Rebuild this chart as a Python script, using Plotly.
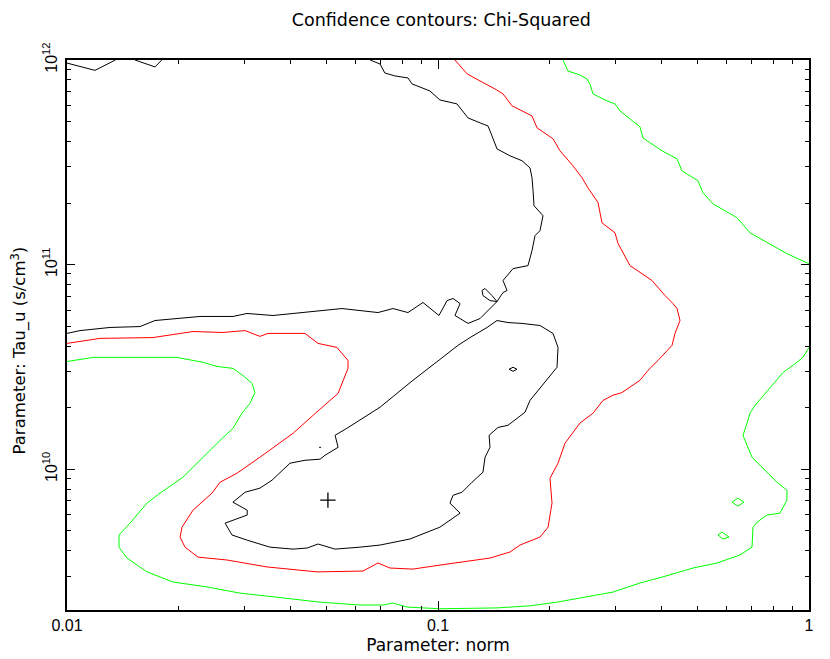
import plotly.graph_objects as go

# contour levels (norm vs Tau_u)
black_a_norm = [0.0100, 0.0119, 0.0135]
black_a_tau = [9.66e11, 8.9e11, 1.0e12]
black_b_norm = [0.01525, 0.01727, 0.0180]
black_b_tau = [1.0e12, 9.25e11, 1.0e12]

black_outer_norm = [0.0100, 0.01084, 0.01306, 0.01573, 0.01727, 0.02283, 0.02802, 0.03056, 0.03592, 0.04325,
                    0.0502, 0.0551, 0.0689, 0.0756, 0.0830, 0.0911, 0.1006, 0.1058, 0.1098, 0.1147,
                    0.1111, 0.1205, 0.1298, 0.1381, 0.1442, 0.1381, 0.1322, 0.1314, 0.1339, 0.1398,
                    0.1442, 0.1497, 0.1535, 0.1497, 0.1593, 0.1748, 0.1792, 0.1826, 0.1883, 0.1919,
                    0.1815, 0.1804, 0.1792, 0.1770, 0.1684, 0.1564, 0.1442, 0.1398, 0.1364, 0.1298,
                    0.1205, 0.1125, 0.1012, 0.0951, 0.0851, 0.0830, 0.0765, 0.0719, 0.0698, 0.0656]
black_outer_tau = [4.61e10, 4.76e10, 4.93e10, 4.98e10, 5.33e10, 5.58e10, 5.58e10, 5.77e10, 5.64e10, 5.83e10,
                   6.03e10, 6.10e10, 5.83e10, 6.10e10, 5.83e10, 6.53e10, 5.64e10, 6.67e10, 6.83e10, 6.45e10,
                   5.64e10, 5.16e10, 5.45e10, 6.10e10, 6.60e10, 6.67e10, 7.06e10, 7.47e10, 7.64e10, 7.06e10,
                   6.60e10, 7.30e10, 7.47e10, 8.36e10, 9.56e10, 9.89e10, 1.17e11, 1.385e11, 1.465e11, 1.734e11,
                   1.94e11, 2.30e11, 2.66e11, 2.97e11, 3.22e11, 3.40e11, 3.68e11, 4.26e11, 4.76e11, 4.93e11,
                   5.21e11, 6.10e11, 6.38e11, 7.06e11, 7.64e11, 8.17e11, 8.36e11, 8.64e11, 9.56e11, 1.0e12]

black_inner_norm = [0.1442, 0.1356, 0.1220, 0.1132, 0.1012, 0.0856, 0.0698, 0.0616, 0.0568, 0.0528,
                    0.0538, 0.0496, 0.0481, 0.0438, 0.0399, 0.0357, 0.0331, 0.0302, 0.0280, 0.0306,
                    0.0306, 0.02667, 0.02785, 0.0306, 0.03525, 0.0407, 0.0444, 0.0475, 0.0528, 0.0616,
                    0.0698, 0.0840, 0.1012, 0.1147, 0.1077, 0.1098, 0.1161, 0.1235, 0.1322, 0.1339,
                    0.1381, 0.1373, 0.1451, 0.1544, 0.1643, 0.1716, 0.1770, 0.1883, 0.2004, 0.2093,
                    0.2106, 0.2042, 0.1883, 0.1684, 0.1544, 0.1442]
black_inner_tau = [5.33e10, 4.93e10, 4.40e10, 4.03e10, 3.44e10, 2.72e10, 2.01e10, 1.73e10, 1.585e10, 1.465e10,
                   1.28e10, 1.17e10, 1.12e10, 1.106e10, 1.07e10, 8.84e9, 8.08e9, 7.72e9, 6.90e9, 6.31e9,
                   5.97e9, 5.45e9, 4.77e9, 4.50e9, 4.16e9, 4.07e9, 4.12e9, 4.31e9, 4.07e9, 4.16e9,
                   4.26e9, 4.56e9, 5.21e9, 6.10e9, 6.83e9, 7.46e9, 7.72e9, 8.64e9, 9.67e9, 1.144e10,
                   1.28e10, 1.465e10, 1.60e10, 1.64e10, 1.79e10, 1.90e10, 2.17e10, 2.48e10, 2.87e10, 3.15e10,
                   3.94e10, 4.61e10, 5.04e10, 5.16e10, 5.21e10, 5.33e10]

black_ring_norm = [0.1554, 0.1593, 0.1633, 0.1593, 0.1554]
black_ring_tau = [3.08e10, 3.15e10, 3.08e10, 3.01e10, 3.08e10]
black_dot_norm = [0.0478, 0.0484]
black_dot_tau = [1.28e10, 1.28e10]

red_norm = [0.0100, 0.01227, 0.01705, 0.02186, 0.02634, 0.0302, 0.0331, 0.03482, 0.0438, 0.0475,
            0.0534, 0.0572, 0.0572, 0.0538, 0.0460, 0.0407, 0.0331, 0.02872, 0.02585, 0.02459,
            0.02186, 0.02042, 0.02017, 0.0208, 0.02255, 0.0270, 0.0346, 0.0472, 0.0628, 0.0689,
            0.0742, 0.0856, 0.1012, 0.1381, 0.1564, 0.1663, 0.1883, 0.1980, 0.2029, 0.2004,
            0.2106, 0.2199, 0.2413, 0.2617, 0.2785, 0.2963, 0.3133, 0.3334, 0.3503, 0.3681,
            0.3917, 0.4273, 0.4354, 0.4491, 0.4408, 0.4300, 0.4092, 0.3775, 0.3293, 0.3056,
            0.3000, 0.2767, 0.2700, 0.2537, 0.2444, 0.2311, 0.2132, 0.2042, 0.1849, 0.1792,
            0.1583, 0.1497, 0.1424, 0.1298, 0.1198, 0.1111]
red_tau = [4.12e10, 4.36e10, 4.40e10, 4.71e10, 4.66e10, 4.76e10, 4.46e10, 4.61e10, 4.61e10, 4.12e10,
           3.94e10, 3.40e10, 3.11e10, 2.35e10, 1.83e10, 1.50e10, 1.144e10, 9.56e9, 8.64e9, 7.64e9,
           6.31e9, 5.21e9, 4.66e9, 4.16e9, 3.72e9, 3.60e9, 3.33e9, 3.15e9, 3.18e9, 3.48e9,
           3.29e9, 3.25e9, 3.40e9, 3.68e9, 3.94e9, 4.26e9, 4.66e9, 5.21e9, 6.83e9, 9.04e9,
           1.07e10, 1.34e10, 1.68e10, 1.88e10, 2.17e10, 2.30e10, 2.37e10, 2.57e10, 2.72e10, 3.04e10,
           3.40e10, 4.03e10, 4.61e10, 5.33e10, 6.10e10, 6.45e10, 7.06e10, 8.36e10, 9.89e10, 1.27e11,
           1.43e11, 1.60e11, 2.01e11, 2.37e11, 2.66e11, 3.04e11, 3.60e11, 4.12e11, 4.66e11, 5.33e11,
           5.97e11, 6.83e11, 7.22e11, 7.90e11, 8.55e11, 1.0e12]

green_main_norm = [0.0100, 0.01175, 0.01979, 0.02326, 0.02536, 0.02802, 0.02981, 0.03152, 0.03211, 0.03113,
                   0.02963, 0.02802, 0.02634, 0.02326, 0.02054, 0.01781, 0.01643, 0.01478, 0.01381, 0.01381,
                   0.01451, 0.01643, 0.01931, 0.02384, 0.02926, 0.03592, 0.0481, 0.0616, 0.0711, 0.0756,
                   0.0825, 0.1012, 0.1442, 0.1770, 0.2093, 0.2963, 0.3503, 0.4016, 0.4869, 0.5649,
                   0.6516, 0.7021, 0.7065, 0.7242, 0.7705, 0.835, 0.872, 0.872, 0.820, 0.7705,
                   0.7242, 0.7021, 0.6806, 0.6639, 0.6806, 0.6934, 0.7153, 0.785, 0.851, 0.9055,
                   0.963, 1.0]
green_main_tau = [3.36e10, 3.52e10, 3.52e10, 3.33e10, 3.18e10, 3.11e10, 2.87e10, 2.63e10, 2.37e10, 2.10e10,
                  1.88e10, 1.585e10, 1.43e10, 1.144e10, 9.14e9, 7.64e9, 6.83e9, 5.45e9, 4.77e9, 4.16e9,
                  3.68e9, 3.15e9, 2.81e9, 2.66e9, 2.48e9, 2.38e9, 2.24e9, 2.17e9, 2.17e9, 2.22e9,
                  2.12e9, 2.08e9, 2.10e9, 2.15e9, 2.24e9, 2.51e9, 2.78e9, 2.97e9, 3.29e9, 3.48e9,
                  3.81e9, 4.16e9, 5.21e9, 5.51e9, 5.97e9, 6.10e9, 7.06e9, 7.90e9, 8.64e9, 9.67e9,
                  1.08e10, 1.144e10, 1.31e10, 1.465e10, 1.68e10, 1.88e10, 2.05e10, 2.51e10, 2.97e10, 3.22e10,
                  3.52e10, 3.94e10]

green_top_norm = [0.2172, 0.2240, 0.2413, 0.2521, 0.2568, 0.2617, 0.2819, 0.3000, 0.3094, 0.3293,
                  0.3503, 0.3569, 0.3845, 0.4016, 0.4408, 0.4547, 0.502, 0.5178, 0.5511, 0.6394,
                  0.6934, 0.7998, 0.872, 1.0]
green_top_tau = [1.0e12, 8.84e11, 8.45e11, 8.08e11, 7.64e11, 6.83e11, 6.38e11, 6.10e11, 5.64e11, 5.15e11,
                 4.71e11, 4.16e11, 3.81e11, 3.60e11, 3.29e11, 2.87e11, 2.57e11, 2.245e11, 1.98e11, 1.696e11,
                 1.43e11, 1.238e11, 1.131e11, 1.01e11]

green_isle1_norm = [0.620, 0.6434, 0.6678, 0.6434, 0.620]
green_isle1_tau = [6.90e9, 7.22e9, 6.90e9, 6.60e9, 6.90e9]
green_isle2_norm = [0.5684, 0.5827, 0.6086, 0.5863, 0.5684]
green_isle2_tau = [4.77e9, 4.93e9, 4.66e9, 4.56e9, 4.77e9]

best_norm = [0.0505]
best_tau = [7.06e9]

x_major = [0.01, 0.1, 1]
x_major_text = ["0.01", "0.1", "1"]
x_minor = [0.02, 0.03, 0.04, 0.05, 0.06, 0.07, 0.08, 0.09, 0.2, 0.3, 0.4, 0.5, 0.6, 0.7, 0.8, 0.9]
y_major = [1e10, 1e11, 1e12]
y_major_text = ["10<sup>10</sup>", "10<sup>11</sup>", "10<sup>12</sup>"]
y_minor = [3e9, 4e9, 5e9, 6e9, 7e9, 8e9, 9e9, 2e10, 3e10, 4e10, 5e10, 6e10, 7e10, 8e10, 9e10,
           2e11, 3e11, 4e11, 5e11, 6e11, 7e11, 8e11, 9e11]

pieces = [
    (black_a_norm, black_a_tau, "black"),
    (black_b_norm, black_b_tau, "black"),
    (black_outer_norm, black_outer_tau, "black"),
    (black_inner_norm, black_inner_tau, "black"),
    (black_ring_norm, black_ring_tau, "black"),
    (black_dot_norm, black_dot_tau, "black"),
    (red_norm, red_tau, "#ff0000"),
    (green_main_norm, green_main_tau, "#00ff00"),
    (green_top_norm, green_top_tau, "#00ff00"),
    (green_isle1_norm, green_isle1_tau, "#00ff00"),
    (green_isle2_norm, green_isle2_tau, "#00ff00"),
]

fig = go.Figure()
for xs, ys, col in pieces:
    fig.add_trace(go.Scatter(x=xs, y=ys, mode="lines", line=dict(color=col, width=1),
                             showlegend=False, hoverinfo="skip"))

# best fit
fig.add_trace(go.Scatter(x=best_norm, y=best_tau, mode="markers", showlegend=False,
                         marker=dict(symbol="cross-thin", size=11, line=dict(color="black", width=1.3))))

label_font = "DejaVu Sans, Arial, sans-serif"
tick_font = "Liberation Sans, Arial, sans-serif"

# the page body adds an 8px offset, so margins are trimmed on the left/top
fig.update_layout(
    width=830, height=659,
    margin=dict(l=59, r=29, t=52, b=57),
    paper_bgcolor="white", plot_bgcolor="white",
    font=dict(family=tick_font, color="black", size=15),
    title=dict(text="Confidence contours: Chi-Squared", x=0.522, xanchor="center", y=0.982,
               yanchor="middle", font=dict(family=label_font, size=17.5), automargin=False),
    xaxis=dict(type="log", range=[-2, 0], showgrid=False, zeroline=False, automargin=False,
               showline=True, linecolor="black", linewidth=1.5, mirror="ticks",
               tickmode="array", tickvals=x_major, ticktext=x_major_text,
               ticks="inside", ticklen=9, tickwidth=1, tickcolor="black",
               minor=dict(tickmode="array", tickvals=x_minor, ticks="inside", ticklen=4,
                          tickwidth=1, tickcolor="black", showgrid=False),
               tickfont=dict(size=16),
               title=dict(text="Parameter: norm", font=dict(family=label_font, size=17), standoff=6)),
    yaxis=dict(type="log", range=[9.312, 12], showgrid=False, zeroline=False, automargin=False,
               showline=True, linecolor="black", linewidth=1.5, mirror="ticks",
               tickmode="array", tickvals=y_major, ticktext=y_major_text,
               ticks="inside", ticklen=8, tickwidth=1, tickcolor="black", tickangle=-90,
               ticklabelstandoff=2,
               minor=dict(tickmode="array", tickvals=y_minor, ticks="inside", ticklen=4,
                          tickwidth=1, tickcolor="black", showgrid=False),
               tickfont=dict(size=16)),
    annotations=[dict(text="Parameter: Tau_u (s/cm<sup>3</sup>)", xref="paper", yref="paper",
                      x=-0.0640, y=0.471, xanchor="center", yanchor="middle", textangle=-90,
                      showarrow=False, font=dict(family=label_font, size=16.5))],
)

fig.write_html("out.html")
